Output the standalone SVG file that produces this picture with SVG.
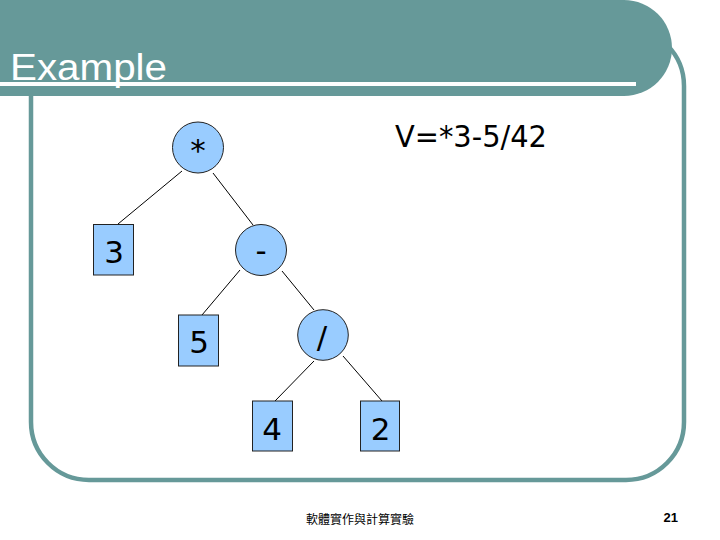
<svg xmlns="http://www.w3.org/2000/svg" width="720" height="540" viewBox="0 0 720 540">
<style>
.node{fill:#99CCFF;stroke:#222;stroke-width:1}
.lbl{font-family:"DejaVu Sans",Verdana,sans-serif;font-size:31px;fill:#000;text-anchor:middle}
.edge{stroke:#000;stroke-width:1;fill:none}
</style>
<rect x="31" y="28" width="653" height="452" rx="58" ry="58" fill="none" stroke="#669999" stroke-width="4.5"/>
<path d="M0,0 H624 A48,48 0 0 1 624,96 H0 Z" fill="#669999"/>
<rect x="0" y="82" width="636" height="4" fill="#ffffff"/>
<text x="10" y="80" font-family="'Liberation Sans',Arial,sans-serif" font-size="36" fill="#ffffff" textLength="157" lengthAdjust="spacingAndGlyphs">Example</text>
<text x="395" y="146.5" font-family="'DejaVu Sans',Verdana,sans-serif" font-size="31" fill="#000" textLength="152" lengthAdjust="spacingAndGlyphs">V=*3-5/42</text>
<g id="edges">
<line class="edge" x1="182" y1="171" x2="118" y2="224"/>
<line class="edge" x1="213" y1="173" x2="253" y2="225"/>
<line class="edge" x1="240" y1="270" x2="202" y2="315"/>
<line class="edge" x1="282" y1="271" x2="314" y2="310"/>
<line class="edge" x1="314" y1="361" x2="275" y2="401"/>
<line class="edge" x1="343" y1="356" x2="382" y2="401"/>
</g>
<g id="n-mul"><circle class="node" cx="198" cy="147.5" r="25.5"/><text class="lbl" x="198" y="161">*</text></g>
<g id="n-3"><rect class="node" x="93.5" y="224.5" width="40" height="50.5"/><text class="lbl" x="114" y="262.7">3</text></g>
<g id="n-sub"><circle class="node" cx="261" cy="250" r="25.5"/><text class="lbl" x="261" y="261">-</text></g>
<g id="n-5"><rect class="node" x="178.5" y="315" width="40" height="51"/><text class="lbl" x="199" y="352.7">5</text></g>
<g id="n-div"><circle class="node" cx="323" cy="335" r="25.3"/><text class="lbl" x="322" y="348">/</text></g>
<g id="n-4"><rect class="node" x="252.5" y="401" width="40" height="50"/><text class="lbl" x="272" y="439.5">4</text></g>
<g id="n-2"><rect class="node" x="360.5" y="401" width="39" height="50"/><text class="lbl" x="380.5" y="439.5">2</text></g>
<text x="306" y="524" font-family="'Noto Sans CJK TC',sans-serif" font-size="12" fill="#000" textLength="108" lengthAdjust="spacingAndGlyphs">軟體實作與計算實驗</text>
<text x="678" y="522" font-family="'Liberation Sans',Arial,sans-serif" font-size="13" font-weight="bold" fill="#000" text-anchor="end">21</text>
</svg>
